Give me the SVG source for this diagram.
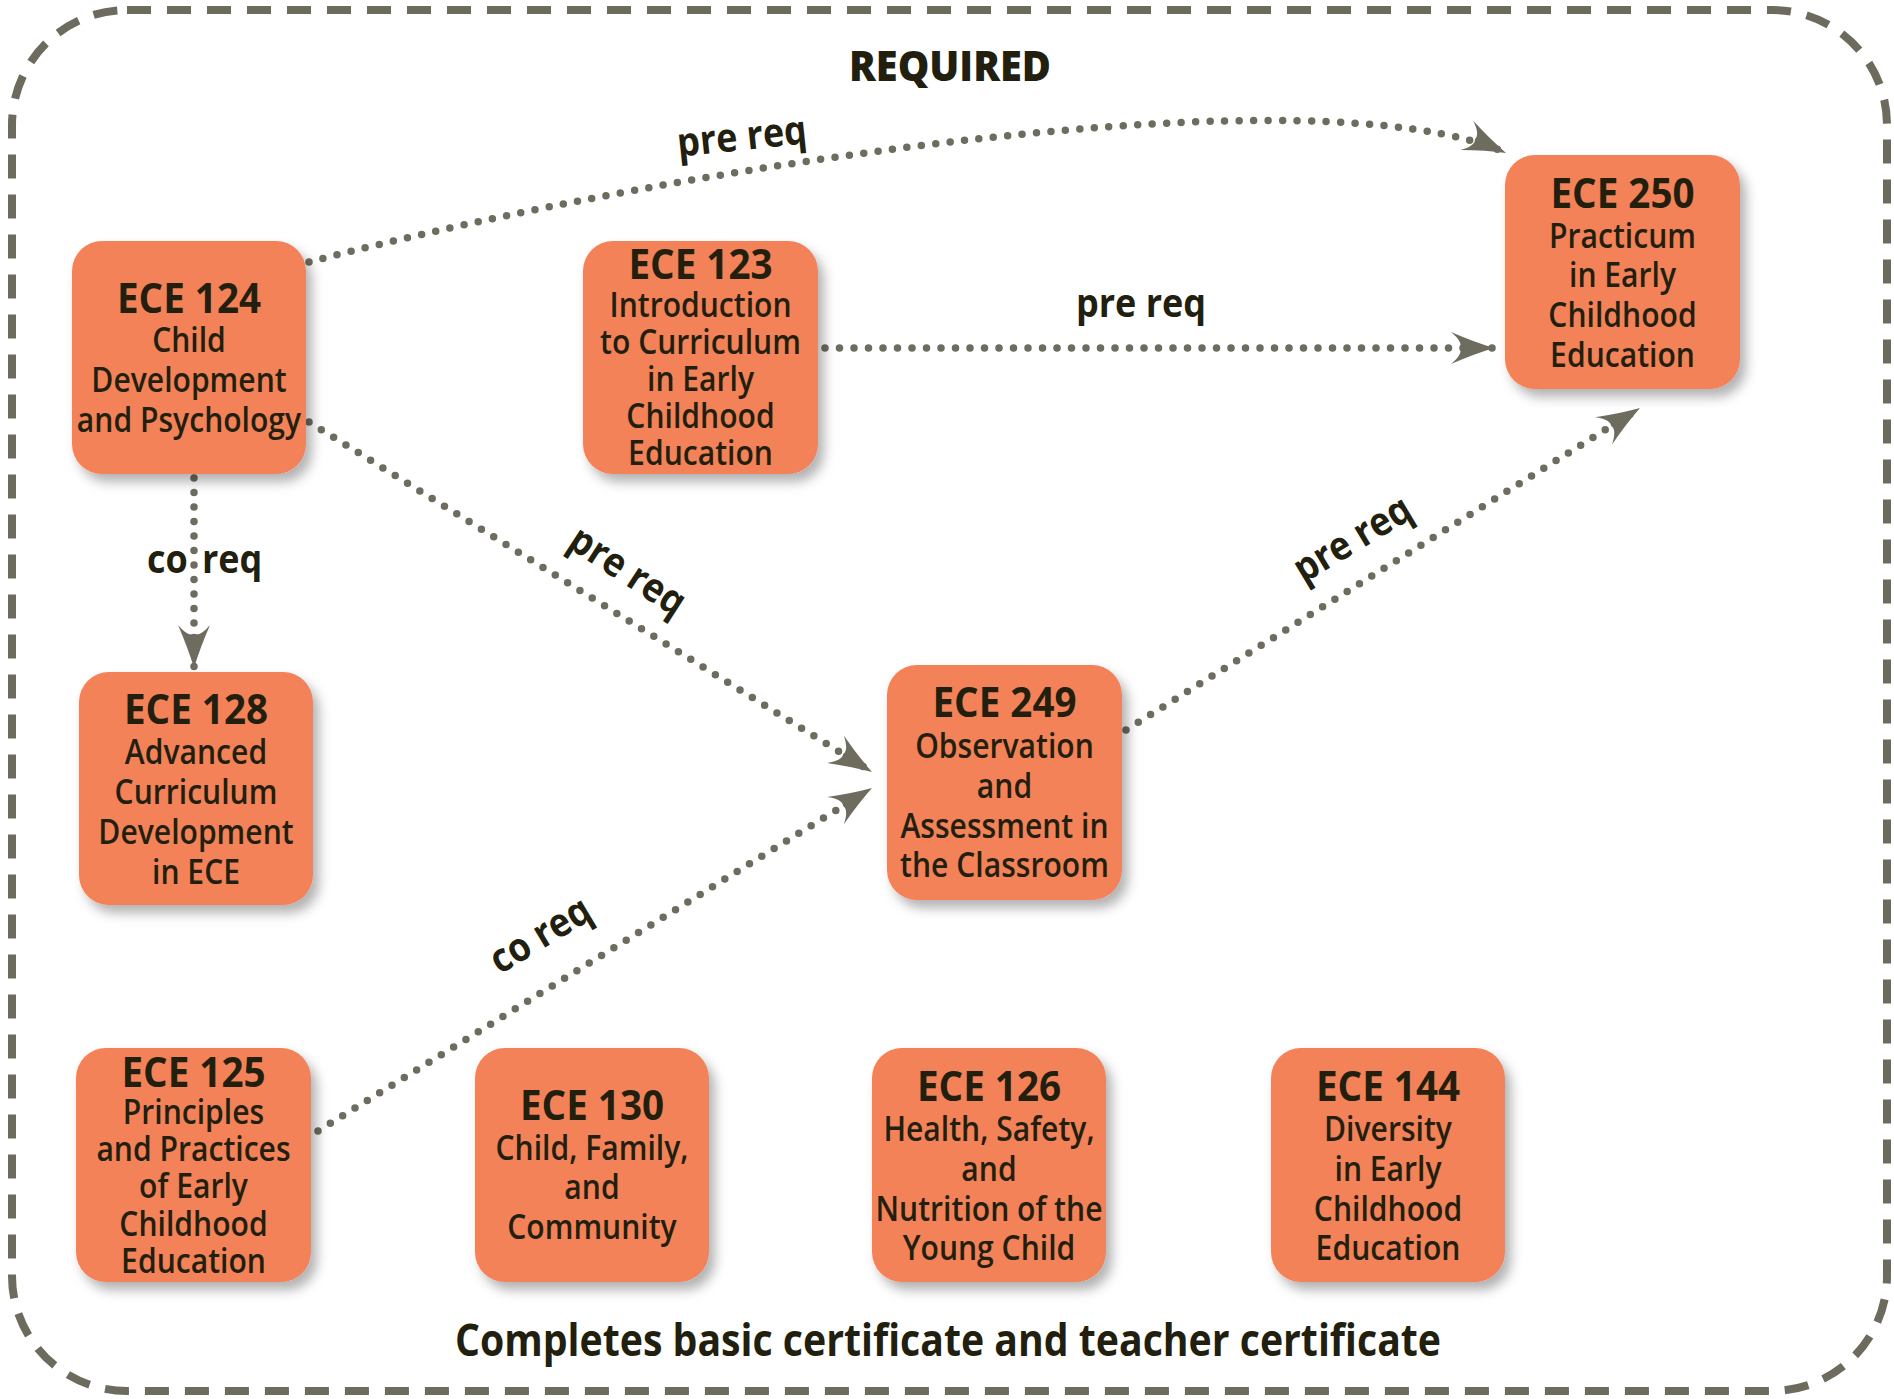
<svg xmlns="http://www.w3.org/2000/svg" width="1894" height="1399" viewBox="0 0 1894 1399">
<style>
.box{fill:#F38258;filter:url(#sh)}
.t{font-family:"Open Sans","Noto Sans",sans-serif;font-weight:700;font-size:42px;fill:#231F0F;text-anchor:middle}
.b{font-family:"Open Sans","Noto Sans",sans-serif;font-weight:600;font-size:35px;fill:#231F0F;text-anchor:middle}
.lbl{font-family:"Open Sans","Noto Sans",sans-serif;font-weight:700;font-size:40px;fill:#231F0F}
.c{fill:none;stroke:#6E6C5E;stroke-width:7.5;stroke-linecap:round;stroke-dasharray:0 14.5}
</style>
<defs>
<filter id="sh" x="-10%" y="-10%" width="130%" height="130%">
<feDropShadow dx="6" dy="8" stdDeviation="6" flood-color="#000" flood-opacity="0.3"/>
</filter>
<marker id="ah" markerUnits="userSpaceOnUse" viewBox="-46 -20 48 40" refX="0" refY="0" markerWidth="48" markerHeight="40" orient="auto">
<path d="M0,0 Q-20,-6 -43,-16 Q-31,-6 -34,0 Q-31,6 -43,16 Q-20,6 0,0 Z" fill="#6E6C5E"/>
</marker>
</defs>
<rect x="0" y="0" width="1894" height="1399" fill="#fff"/>
<rect x="12" y="10" width="1875" height="1381" rx="115" ry="115" fill="none" stroke="#6D6B5D" stroke-width="8" stroke-dasharray="24 16"/>
<text x="950" y="81" class="lbl" text-anchor="middle" style="font-size:43px;font-weight:800" textLength="202" lengthAdjust="spacingAndGlyphs">REQUIRED</text>
<text x="948" y="1356" class="lbl" text-anchor="middle" style="font-size:44px" textLength="986" lengthAdjust="spacingAndGlyphs">Completes basic certificate and teacher certificate</text>

<g id="connectors">
<path class="c" d="M309,262 C700,160 1320,70 1506,153" marker-end="url(#ah)"/>
<path class="c" d="M825,348 L1494,348" marker-end="url(#ah)"/>
<path class="c" d="M194,478 L194,668" marker-end="url(#ah)"/>
<path class="c" d="M309,422 L872,772" marker-end="url(#ah)"/>
<path class="c" d="M318,1131 L872,788" marker-end="url(#ah)"/>
<path class="c" d="M1126,730 L1640,408" marker-end="url(#ah)"/>
<text class="lbl" transform="rotate(-6 742 138) translate(742 150) scale(0.9 1)" text-anchor="middle">pre req</text>
<text class="lbl" transform="translate(1141 317) scale(0.9 1)" text-anchor="middle">pre req</text>
<text class="lbl" transform="translate(147 573) scale(0.9 1)"><tspan x="0">co</tspan> <tspan x="61">req</tspan></text>
<text class="lbl" transform="rotate(33 627 572) translate(627 584) scale(0.9 1)" text-anchor="middle">pre req</text>
<text class="lbl" transform="rotate(-31 541 936) translate(541 948) scale(0.9 1)" text-anchor="middle">co req</text>
<text class="lbl" transform="rotate(-31 1353 540) translate(1353 552) scale(0.9 1)" text-anchor="middle">pre req</text>
</g>

<g id="ece124">
<rect class="box" x="72" y="241" width="234" height="233" rx="30"/>
<text class="t" transform="translate(189 313) scale(0.92 1)">ECE 124</text>
<g transform="translate(189 0) scale(0.86 1)">
<text class="b" y="352">Child</text>
<text class="b" y="392">Development</text>
<text class="b" y="432">and Psychology</text>
</g>
</g>

<g id="ece123">
<rect class="box" x="583" y="241" width="235" height="233" rx="30"/>
<text class="t" transform="translate(700.5 279) scale(0.92 1)">ECE 123</text>
<g transform="translate(700.5 0) scale(0.86 1)">
<text class="b" y="317">Introduction</text>
<text class="b" y="354">to Curriculum</text>
<text class="b" y="391">in Early</text>
<text class="b" y="428">Childhood</text>
<text class="b" y="465">Education</text>
</g>
</g>

<g id="ece250">
<rect class="box" x="1505" y="155" width="235" height="234" rx="30"/>
<text class="t" transform="translate(1622.5 208) scale(0.92 1)">ECE 250</text>
<g transform="translate(1622.5 0) scale(0.86 1)">
<text class="b" y="248">Practicum</text>
<text class="b" y="287">in Early</text>
<text class="b" y="327">Childhood</text>
<text class="b" y="367">Education</text>
</g>
</g>

<g id="ece128">
<rect class="box" x="79" y="672" width="234" height="233" rx="30"/>
<text class="t" transform="translate(196 724) scale(0.92 1)">ECE 128</text>
<g transform="translate(196 0) scale(0.86 1)">
<text class="b" y="764">Advanced</text>
<text class="b" y="804">Curriculum</text>
<text class="b" y="844">Development</text>
<text class="b" y="884">in ECE</text>
</g>
</g>

<g id="ece249">
<rect class="box" x="887" y="665" width="235" height="235" rx="30"/>
<text class="t" transform="translate(1004.5 717) scale(0.92 1)">ECE 249</text>
<g transform="translate(1004.5 0) scale(0.86 1)">
<text class="b" y="758">Observation</text>
<text class="b" y="798">and</text>
<text class="b" y="838">Assessment in</text>
<text class="b" y="877">the Classroom</text>
</g>
</g>

<g id="ece125">
<rect class="box" x="76" y="1048" width="235" height="234" rx="30"/>
<text class="t" transform="translate(193.5 1087) scale(0.92 1)">ECE 125</text>
<g transform="translate(193.5 0) scale(0.86 1)">
<text class="b" y="1124">Principles</text>
<text class="b" y="1161">and Practices</text>
<text class="b" y="1198">of Early</text>
<text class="b" y="1236">Childhood</text>
<text class="b" y="1273">Education</text>
</g>
</g>

<g id="ece130">
<rect class="box" x="475" y="1048" width="234" height="234" rx="30"/>
<text class="t" transform="translate(592 1120) scale(0.92 1)">ECE 130</text>
<g transform="translate(592 0) scale(0.86 1)">
<text class="b" y="1160">Child, Family,</text>
<text class="b" y="1199">and</text>
<text class="b" y="1239">Community</text>
</g>
</g>

<g id="ece126">
<rect class="box" x="872" y="1048" width="234" height="234" rx="30"/>
<text class="t" transform="translate(989 1101) scale(0.92 1)">ECE 126</text>
<g transform="translate(989 0) scale(0.86 1)">
<text class="b" y="1141">Health, Safety,</text>
<text class="b" y="1181">and</text>
<text class="b" y="1221">Nutrition of the</text>
<text class="b" y="1260">Young Child</text>
</g>
</g>

<g id="ece144">
<rect class="box" x="1271" y="1048" width="234" height="234" rx="30"/>
<text class="t" transform="translate(1388 1101) scale(0.92 1)">ECE 144</text>
<g transform="translate(1388 0) scale(0.86 1)">
<text class="b" y="1141">Diversity</text>
<text class="b" y="1181">in Early</text>
<text class="b" y="1221">Childhood</text>
<text class="b" y="1260">Education</text>
</g>
</g>
</svg>
